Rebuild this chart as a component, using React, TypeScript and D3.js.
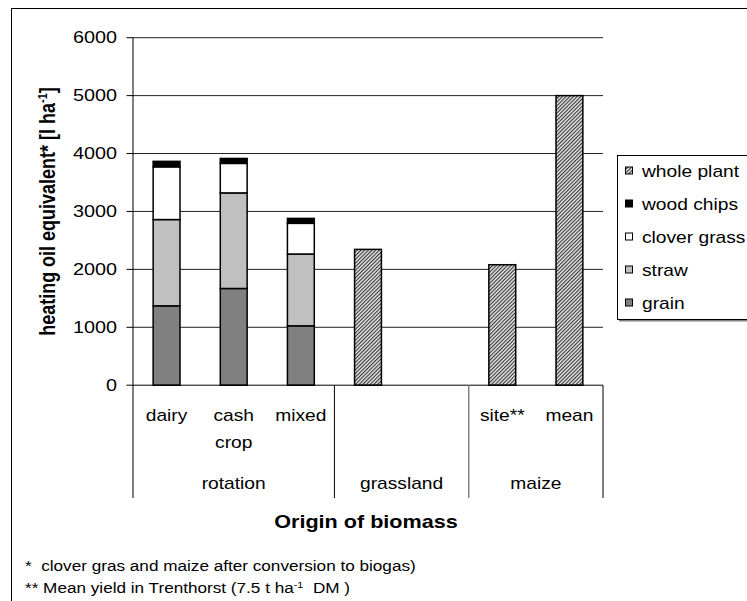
import React, { useEffect, useRef } from 'react';
import * as d3 from 'd3';

const categories = ['dairy', 'cash crop', 'mixed', 'grassland', 'grassland-2', 'site**', 'mean'];
const categoryLabels = [['dairy'], ['cash', 'crop'], ['mixed'], [], [], ['site**'], ['mean']];
const groups = ['rotation', 'grassland', 'maize'];
const groupSpans = [3, 2, 2];

const seriesNames = ['grain', 'straw', 'clover grass', 'wood chips', 'whole plant'];
const grain = [1370, 1670, 1025, 0, 0, 0, 0];
const straw = [1490, 1650, 1240, 0, 0, 0, 0];
const cloverGrass = [910, 510, 530, 0, 0, 0, 0];
const woodChips = [95, 85, 85, 0, 0, 0, 0];
const wholePlant = [0, 0, 0, 2345, 0, 2080, 5000];

const yTicks = [0, 1000, 2000, 3000, 4000, 5000, 6000];

const FONT = '"Liberation Sans", Arial, Helvetica, sans-serif';
const SX = 1.2; // the original picture is stretched horizontally

export default function App() {
  const svgRef = useRef<SVGSVGElement>(null);

  useEffect(() => {
    if (!svgRef.current) return;
    const svg = d3.select(svgRef.current);
    svg.selectAll('*').remove();

    const width = 747;
    const height = 601;
    const plot = { left: 133, right: 603, top: 37.7, bottom: 385.2 };
    const catBottom = 498;

    const defs = svg.append('defs');
    const pat = defs
      .append('pattern')
      .attr('id', 'hatch')
      .attr('patternUnits', 'userSpaceOnUse')
      .attr('width', 2.6)
      .attr('height', 2.6)
      .attr('patternTransform', 'rotate(45)');
    pat.append('rect').attr('width', 2.6).attr('height', 2.6).attr('fill', '#e8e8e8');
    pat.append('rect').attr('width', 1.1).attr('height', 2.6).attr('fill', '#333');

    const fills: Record<string, string> = {
      grain: '#808080',
      straw: '#c0c0c0',
      'clover grass': '#ffffff',
      'wood chips': '#000000',
      'whole plant': 'url(#hatch)',
    };

    // outer frame
    svg
      .append('rect')
      .attr('x', 11.5)
      .attr('y', 8.5)
      .attr('width', width)
      .attr('height', height)
      .attr('fill', 'none')
      .attr('stroke', '#000')
      .attr('stroke-width', 1);

    const x = d3.scaleBand().domain(categories).range([plot.left, plot.right]).paddingInner(0.6).paddingOuter(0.3);
    const y = d3.scaleLinear().domain([0, 6000]).range([plot.bottom, plot.top]);

    const txt = (px: number, py: number, s: string, size: number, anchor = 'middle', weight = 'normal') =>
      svg
        .append('text')
        .attr('transform', `translate(${px},${py}) scale(${SX},1)`)
        .attr('text-anchor', anchor)
        .attr('dy', '0.35em')
        .attr('font-family', FONT)
        .attr('font-size', size)
        .attr('font-weight', weight)
        .attr('fill', '#000')
        .style('white-space', 'pre')
        .text(s);

    // gridlines
    yTicks.forEach((t) => {
      if (t > 0) {
        svg
          .append('line')
          .attr('x1', plot.left)
          .attr('x2', plot.right)
          .attr('y1', y(t))
          .attr('y2', y(t))
          .attr('stroke', '#222')
          .attr('stroke-width', 1);
      }
      svg
        .append('line')
        .attr('x1', plot.left - 6.5)
        .attr('x2', plot.left)
        .attr('y1', y(t))
        .attr('y2', y(t))
        .attr('stroke', '#000');
      txt(117, y(t), String(t), 16.5, 'end');
    });

    // stacked bars
    const rows = categories.map((c, i) => ({
      cat: c,
      grain: grain[i],
      straw: straw[i],
      'clover grass': cloverGrass[i],
      'wood chips': woodChips[i],
      'whole plant': wholePlant[i],
    }));
    const stacked = d3.stack<any>().keys(seriesNames)(rows);
    stacked.forEach((layer) => {
      layer.forEach((d) => {
        if (d[1] - d[0] <= 0) return;
        svg
          .append('rect')
          .attr('x', x(d.data.cat)!)
          .attr('y', y(d[1]))
          .attr('width', x.bandwidth())
          .attr('height', y(d[0]) - y(d[1]))
          .attr('fill', fills[layer.key])
          .attr('stroke', '#000')
          .attr('stroke-width', 1.5);
      });
    });

    // axes
    svg
      .append('line')
      .attr('x1', plot.left)
      .attr('x2', plot.right)
      .attr('y1', plot.bottom)
      .attr('y2', plot.bottom)
      .attr('stroke', '#000');
    svg
      .append('line')
      .attr('x1', plot.left)
      .attr('x2', plot.left)
      .attr('y1', plot.top)
      .attr('y2', catBottom)
      .attr('stroke', '#000');

    // category labels
    categories.forEach((c, i) => {
      const cx = x(c)! + x.bandwidth() / 2;
      categoryLabels[i].forEach((line, j) => txt(cx, 415 + j * 27, line, 16));
    });

    // group separators and labels
    let start = 0;
    groups.forEach((g, gi) => {
      const x0 = plot.left + start * x.step();
      const x1 = plot.left + (start + groupSpans[gi]) * x.step();
      svg
        .append('line')
        .attr('x1', x1)
        .attr('x2', x1)
        .attr('y1', plot.bottom)
        .attr('y2', catBottom)
        .attr('stroke', gi === 1 ? '#808080' : '#000')
        .attr('stroke-width', gi === 1 ? 1.5 : 1);
      txt((x0 + x1) / 2, 483.5, g, 16);
      start += groupSpans[gi];
    });

    // axis titles
    txt(366, 521.5, 'Origin of biomass', 18, 'middle', 'bold');
    const yt = svg
      .append('text')
      .attr('transform', `translate(55,211.5) scale(${SX},1) rotate(-90)`)
      .attr('text-anchor', 'middle')
      .attr('font-family', FONT)
      .attr('font-size', 18)
      .attr('font-weight', 'bold');
    yt.append('tspan').text('heating oil equivalent* [l ha');
    yt.append('tspan').attr('dy', -7).attr('font-size', 11).text('-1');
    yt.append('tspan').attr('dy', 7).text(']');

    // legend
    const legendItems = seriesNames.slice().reverse();
    svg
      .append('rect')
      .attr('x', 619)
      .attr('y', 157.5)
      .attr('width', 200)
      .attr('height', 164)
      .attr('fill', '#808080');
    svg
      .append('rect')
      .attr('x', 617.5)
      .attr('y', 155.5)
      .attr('width', 200)
      .attr('height', 164)
      .attr('fill', '#fff')
      .attr('stroke', '#000');
    legendItems.forEach((name, i) => {
      const ly = 171 + i * 33;
      svg
        .append('rect')
        .attr('x', 625.5)
        .attr('y', ly - 4)
        .attr('width', 7)
        .attr('height', 7)
        .attr('fill', fills[name])
        .attr('stroke', '#000');
      txt(642, ly, name, 16, 'start');
    });

    // footnotes
    txt(25, 566, '*  clover gras and maize after conversion to biogas)', 14.3, 'start');
    const fn = svg
      .append('text')
      .attr('transform', `translate(25,588) scale(${SX},1)`)
      .attr('dy', '0.35em')
      .attr('font-family', FONT)
      .attr('font-size', 14.3)
      .style('white-space', 'pre');
    fn.append('tspan').text('** Mean yield in Trenthorst (7.5 t ha');
    fn.append('tspan').attr('dy', -5).attr('font-size', 9).text('-1');
    fn.append('tspan').attr('dy', 5).text('  DM )');
  }, []);

  return (
    <svg
      ref={svgRef}
      width={747}
      height={601}
      style={{ position: 'absolute', left: 0, top: 0, background: '#fff' }}
    />
  );
}
